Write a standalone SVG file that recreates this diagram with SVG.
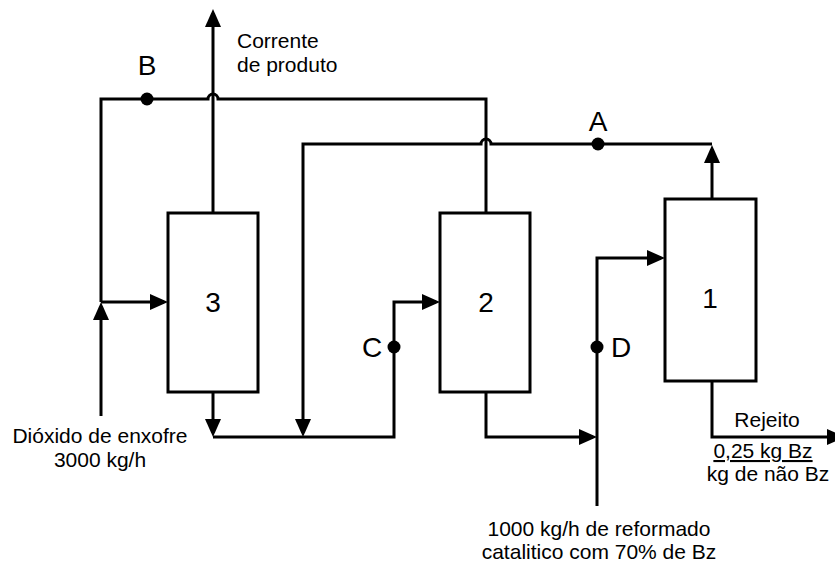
<svg xmlns="http://www.w3.org/2000/svg" width="835" height="562" viewBox="0 0 835 562">
<style>
.ln{fill:none;stroke:#000;stroke-width:3;stroke-linejoin:miter}
.box{fill:#fff;stroke:#000;stroke-width:3}
.dot{fill:#000}
text{font-family:"Liberation Sans",Arial,sans-serif;fill:#000}
.t{font-size:21px}
.big{font-size:28px}
</style>
<defs>
<marker id="ah" markerUnits="userSpaceOnUse" markerWidth="18" markerHeight="16" refX="14" refY="8" orient="auto" overflow="visible">
<path d="M0,0 L18,8 L0,16 z" fill="#000"/>
</marker>
</defs>
<rect width="835" height="562" fill="#fff"/>
<g id="connectors">
<path class="ln" d="M213,213 V13" marker-end="url(#ah)"/>
<path class="ln" d="M486,213 V99 H218 A5,5 0 0 0 208,99 H101 V302"/>
<path class="ln" d="M101,416 V306" marker-end="url(#ah)"/>
<path class="ln" d="M101,302 H164" marker-end="url(#ah)"/>
<path class="ln" d="M712,199 V149" marker-end="url(#ah)"/>
<path class="ln" d="M712,144 H491 A5,5 0 0 0 481,144 H303 V433" marker-end="url(#ah)"/>
<path class="ln" d="M213,392 V433" marker-end="url(#ah)"/>
<path class="ln" d="M213,437 H394 V302 H436" marker-end="url(#ah)"/>
<path class="ln" d="M486,392 V437 H593" marker-end="url(#ah)"/>
<path class="ln" d="M597,506 V258 H661" marker-end="url(#ah)"/>
<path class="ln" d="M712,381 V437 H841" marker-end="url(#ah)"/>
</g>
<g id="unit3"><rect class="box" x="168" y="213" width="90" height="179"/><text class="big" x="213" y="312" text-anchor="middle">3</text></g>
<g id="unit2"><rect class="box" x="440" y="213" width="90" height="179"/><text class="big" x="486" y="312" text-anchor="middle">2</text></g>
<g id="unit1"><rect class="box" x="665" y="199" width="91" height="182"/><text class="big" x="710" y="308" text-anchor="middle">1</text></g>
<g id="pointB"><circle class="dot" cx="147" cy="99" r="6.5"/><text class="big" x="147" y="75" text-anchor="middle">B</text></g>
<g id="pointA"><circle class="dot" cx="598" cy="144" r="6.5"/><text class="big" x="598" y="131" text-anchor="middle">A</text></g>
<g id="pointC"><circle class="dot" cx="394" cy="347" r="6.5"/><text class="big" x="372" y="357" text-anchor="middle">C</text></g>
<g id="pointD"><circle class="dot" cx="597" cy="347" r="6.5"/><text class="big" x="621" y="357" text-anchor="middle">D</text></g>
<g id="product"><text class="t" x="237" y="48">Corrente</text><text class="t" x="237" y="72">de produto</text></g>
<g id="feedSO2"><text class="t" x="100" y="443" text-anchor="middle">Dióxido de enxofre</text><text class="t" x="100" y="467" text-anchor="middle">3000 kg/h</text></g>
<g id="feedReformate"><text class="t" x="599" y="536" text-anchor="middle">1000 kg/h de reformado</text><text class="t" x="599" y="559" text-anchor="middle">catalitico com 70% de Bz</text></g>
<g id="reject"><text class="t" x="767" y="427" text-anchor="middle">Rejeito</text><text class="t" x="763" y="458" text-anchor="middle" text-decoration="underline">0,25 kg Bz</text><text class="t" x="768" y="481" text-anchor="middle">kg de não Bz</text></g>
</svg>
